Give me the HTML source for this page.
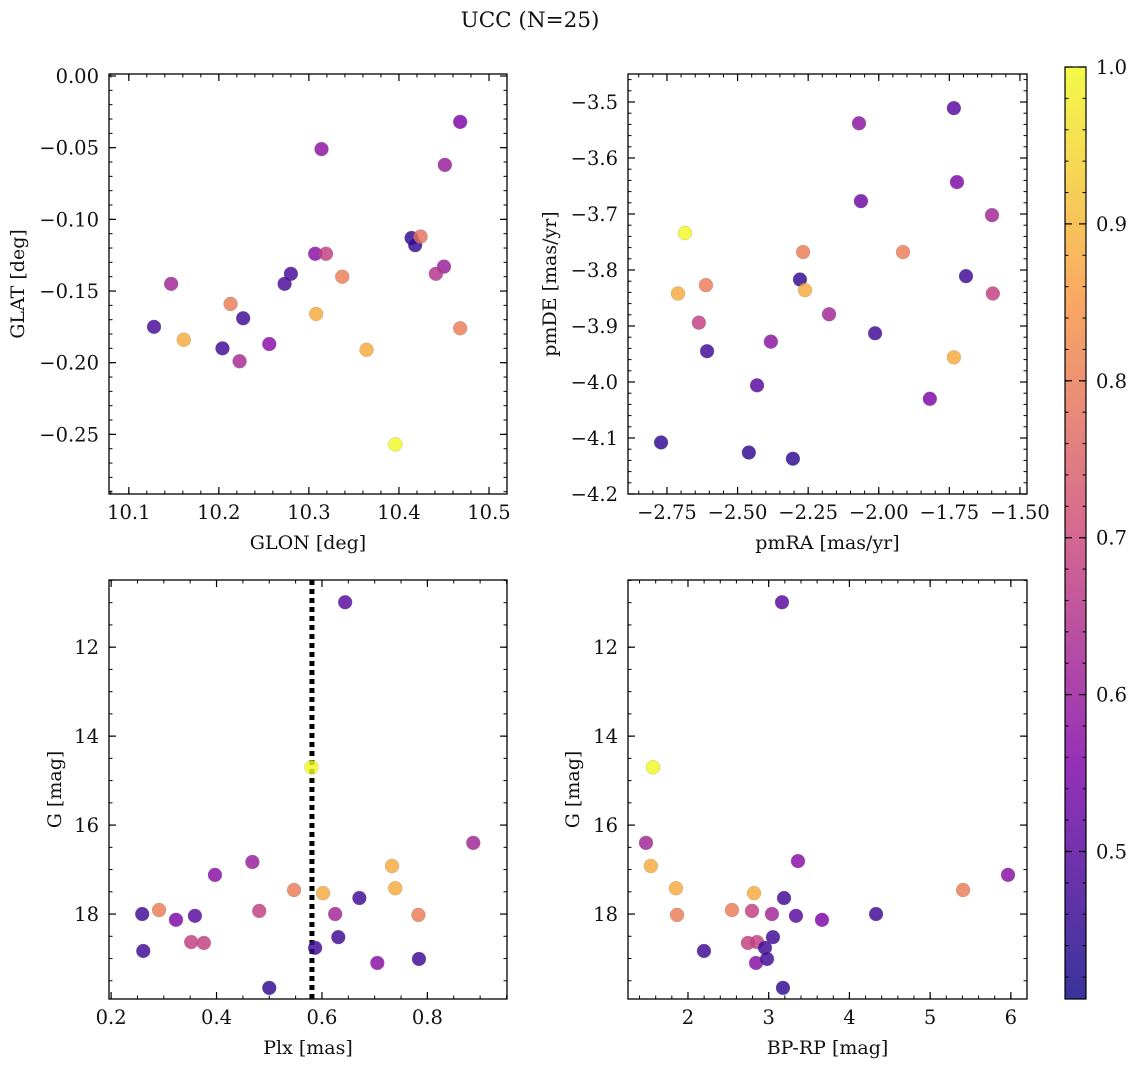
<!DOCTYPE html>
<html><head><meta charset="utf-8"><style>
body{margin:0;background:#fff;}
svg text{font-family:"DejaVu Serif","Liberation Serif",serif;fill:#111;}
</style></head><body>
<svg id="fig" width="1136" height="1067" xmlns="http://www.w3.org/2000/svg">
<defs>
<linearGradient id="plasma" x1="0" y1="1" x2="0" y2="0">
<stop offset="0" stop-color="#0d0887"/><stop offset="0.25" stop-color="#7e03a8"/>
<stop offset="0.5" stop-color="#cc4778"/><stop offset="0.75" stop-color="#f89540"/>
<stop offset="1" stop-color="#f0f921"/></linearGradient>
</defs>
<text x="530" y="27" font-size="21.5" text-anchor="middle">UCC (N=25)</text>
</svg>
<script>
// Panel 1: GLON vs GLAT
const p1X=[10.468,10.314,10.451,10.414,10.418,10.424,10.307,10.319,10.450,10.441,10.280,10.337,10.273,10.147,10.213,10.308,10.227,10.468,10.128,10.161,10.204,10.256,10.364,10.223,10.396];
const p1Y=[-0.032,-0.051,-0.062,-0.113,-0.118,-0.112,-0.124,-0.124,-0.133,-0.138,-0.138,-0.140,-0.145,-0.145,-0.159,-0.166,-0.169,-0.176,-0.175,-0.184,-0.190,-0.187,-0.191,-0.199,-0.257];
const p1P=[0.55,0.58,0.60,0.45,0.45,0.78,0.57,0.68,0.60,0.65,0.48,0.80,0.48,0.62,0.80,0.88,0.47,0.80,0.48,0.88,0.47,0.57,0.88,0.63,1.0];
// Panel 2: pmRA vs pmDE
const p2X=[-1.734,-2.070,-1.723,-2.063,-1.599,-2.686,-2.268,-1.914,-2.279,-1.691,-2.711,-2.612,-1.596,-2.261,-2.176,-2.637,-2.608,-2.382,-2.013,-1.734,-2.431,-1.819,-2.771,-2.460,-2.304];
const p2Y=[-3.511,-3.538,-3.643,-3.677,-3.702,-3.734,-3.768,-3.768,-3.817,-3.811,-3.842,-3.827,-3.842,-3.836,-3.879,-3.894,-3.945,-3.928,-3.913,-3.956,-4.006,-4.030,-4.108,-4.126,-4.137];
const p2P=[0.50,0.58,0.55,0.53,0.62,1.0,0.80,0.80,0.45,0.47,0.88,0.80,0.68,0.88,0.62,0.68,0.47,0.58,0.47,0.88,0.50,0.55,0.45,0.45,0.45];
// Panel 3 & 4: Plx / BP-RP vs G
const gMag=[10.99,14.70,16.40,16.83,16.92,17.12,17.46,17.42,17.53,17.64,17.91,17.93,18.00,18.00,18.02,18.04,18.13,18.63,18.65,18.52,18.76,18.83,19.10,19.01,19.66];
const plx=[0.644,0.580,0.887,0.468,0.733,0.397,0.547,0.739,0.602,0.671,0.291,0.481,0.259,0.625,0.783,0.359,0.323,0.352,0.376,0.631,0.587,0.261,0.705,0.784,0.500];
const p3P=[0.50,1.0,0.62,0.60,0.88,0.57,0.80,0.88,0.88,0.47,0.80,0.68,0.47,0.62,0.80,0.50,0.55,0.68,0.68,0.47,0.47,0.47,0.57,0.47,0.45];
const gMag4=[10.99,14.70,16.40,16.81,16.92,17.12,17.46,17.42,17.53,17.64,17.91,17.93,18.00,18.00,18.02,18.04,18.13,18.65,18.63,18.52,18.76,18.83,19.10,19.01,19.66];
const bprp=[3.165,1.566,1.48,3.363,1.54,5.965,5.408,1.851,2.818,3.19,2.545,2.793,4.33,3.04,1.864,3.338,3.66,2.743,2.855,3.053,2.954,2.198,2.843,2.979,3.177];
const p4P=[0.50,1.0,0.62,0.57,0.88,0.57,0.80,0.88,0.88,0.47,0.80,0.68,0.47,0.62,0.80,0.50,0.55,0.68,0.68,0.47,0.47,0.47,0.57,0.47,0.45];
const plxLine=[0.581];
const cbTicks=[0.5,0.6,0.7,0.8,0.9,1.0];
const VMIN=0.406,VMAX=1.0;

const NS="http://www.w3.org/2000/svg";
const svg=document.getElementById('fig');
function mk(tag,attrs,parent){const e=document.createElementNS(NS,tag);for(const k in attrs)e.setAttribute(k,attrs[k]);(parent||svg).appendChild(e);return e;}
const stops=[[0,[13,8,135]],[0.25,[126,3,168]],[0.5,[204,71,120]],[0.75,[248,149,64]],[1,[240,249,33]]];
function plasma(p){let t=(p-VMIN)/(VMAX-VMIN);t=Math.max(0,Math.min(1,t));
 for(let i=0;i<4;i++){const a=stops[i],b=stops[i+1];if(t<=b[0]){const f=(t-a[0])/(b[0]-a[0]);
 const c=a[1].map((v,j)=>Math.round(v+(b[1][j]-v)*f));return `rgb(${c})`;}}return 'rgb(240,249,33)';}

const TF=19.5, LF=19;
function panel(o){
 const g=mk('g',{});
 
 
 const sx=v=>o.x0+(v-o.xmin)/(o.xmax-o.xmin)*(o.x1-o.x0);
 const sy=v=>o.inv? o.y0+(v-o.ymin)/(o.ymax-o.ymin)*(o.y1-o.y0) : o.y1-(v-o.ymin)/(o.ymax-o.ymin)*(o.y1-o.y0);
 const eps=1e-9;
 for(let v=Math.ceil(o.xmin/o.xmi-eps)*o.xmi;v<=o.xmax+eps;v+=o.xmi){const X=sx(v);
  mk('line',{x1:X,x2:X,y1:o.y1,y2:o.y1-3.5,stroke:'#000','stroke-width':1},g);mk('line',{x1:X,x2:X,y1:o.y0,y2:o.y0+3.5,stroke:'#000','stroke-width':1},g);}
 for(let v=Math.ceil(o.ymin/o.ymi-eps)*o.ymi;v<=o.ymax+eps;v+=o.ymi){const Y=sy(v);
  mk('line',{x1:o.x0,x2:o.x0+3.5,y1:Y,y2:Y,stroke:'#000','stroke-width':1},g);mk('line',{x1:o.x1,x2:o.x1-3.5,y1:Y,y2:Y,stroke:'#000','stroke-width':1},g);}
 o.xt.forEach(v=>{const X=sx(v);
  mk('line',{x1:X,x2:X,y1:o.y1,y2:o.y1-7,stroke:'#000','stroke-width':1.2},g);mk('line',{x1:X,x2:X,y1:o.y0,y2:o.y0+7,stroke:'#000','stroke-width':1.2},g);
  const t=mk('text',{x:X,y:o.y1+25,'font-size':TF,'text-anchor':'middle'},g);t.textContent=v.toFixed(o.xd).replace('-','\u2212');
  });
 o.yt.forEach(v=>{const Y=sy(v);
  mk('line',{x1:o.x0,x2:o.x0+7,y1:Y,y2:Y,stroke:'#000','stroke-width':1.2},g);mk('line',{x1:o.x1,x2:o.x1-7,y1:Y,y2:Y,stroke:'#000','stroke-width':1.2},g);
  const t=mk('text',{x:o.x0-10,y:Y+7,'font-size':TF,'text-anchor':'end'},g);t.textContent=v.toFixed(o.yd).replace('-','\u2212');
  });
 if(o.vline){o.vline.forEach(v=>{const l=mk('line',{x1:sx(v),x2:sx(v),y1:o.y0,y2:o.y1,stroke:'#000','stroke-width':5,'stroke-dasharray':'5,4'},g);
  });}
 o.xs.forEach((v,i)=>{const c=mk('circle',{cx:sx(v),cy:sy(o.ys[i]),r:7,fill:plasma(o.ps[i]),'fill-opacity':0.82,stroke:'#888','stroke-width':0.4,'stroke-opacity':0.6},g);
  });
 const fr=mk('rect',{x:o.x0,y:o.y0,width:o.x1-o.x0,height:o.y1-o.y0,fill:'none',stroke:'#000','stroke-width':1.3},g);
 
 const xl=mk('text',{x:(o.x0+o.x1)/2,y:o.y1+55,'font-size':LF,'text-anchor':'middle'},g);xl.textContent=o.xlab;
 
 const yl=mk('text',{x:o.ylx,y:(o.y0+o.y1)/2,'font-size':LF,'text-anchor':'middle',transform:`rotate(-90 ${o.ylx} ${(o.y0+o.y1)/2})`},g);yl.textContent=o.ylab;
 
}
panel({name:'glon-glat-panel',x0:109,x1:507,y0:74,y1:494,xmin:10.078,xmax:10.520,ymin:-0.2916,ymax:0.0014,xt:[10.1,10.2,10.3,10.4,10.5],xd:1,yt:[0,-0.05,-0.1,-0.15,-0.2,-0.25],yd:2,xmi:0.02,ymi:0.01,xs:p1X,ys:p1Y,ps:p1P,xlab:'GLON [deg]',ylab:'GLAT [deg]',ylx:24});
panel({name:'pm-panel',x0:628,x1:1027,y0:74,y1:494,xmin:-2.888,xmax:-1.475,ymin:-4.2,ymax:-3.45,xt:[-2.75,-2.5,-2.25,-2,-1.75,-1.5],xd:2,yt:[-3.5,-3.6,-3.7,-3.8,-3.9,-4.0,-4.1,-4.2],yd:1,xmi:0.05,ymi:0.02,xs:p2X,ys:p2Y,ps:p2P,xlab:'pmRA [mas/yr]',ylab:'pmDE [mas/yr]',ylx:556});
panel({name:'plx-g-panel',x0:109,x1:507,y0:580,y1:999,inv:true,xmin:0.196,xmax:0.951,ymin:10.49,ymax:19.91,xt:[0.2,0.4,0.6,0.8],xd:1,yt:[12,14,16,18],yd:0,xmi:0.05,ymi:0.5,xs:plx,ys:gMag,ps:p3P,vline:plxLine,xlab:'Plx [mas]',ylab:'G [mag]',ylx:61});
panel({name:'cmd-panel',x0:628,x1:1027,y0:580,y1:999,inv:true,xmin:1.257,xmax:6.2,ymin:10.49,ymax:19.91,xt:[2,3,4,5,6],xd:0,yt:[12,14,16,18],yd:0,xmi:0.2,ymi:0.5,xs:bprp,ys:gMag4,ps:p4P,xlab:'BP-RP [mag]',ylab:'G [mag]',ylx:579});
const cb=mk('g',{});


const cy=v=>999-(v-VMIN)/(VMAX-VMIN)*(999-67);
mk('rect',{x:1065,y:67,width:21,height:932,fill:'url(#plasma)','fill-opacity':0.82},cb);
mk('rect',{x:1065,y:67,width:21,height:932,fill:'none',stroke:'#000','stroke-width':1.2},cb);
for(let v=0.42;v<=1.0001;v+=0.02){const Y=cy(v);mk('line',{x1:1086,x2:1082.5,y1:Y,y2:Y,stroke:'#000','stroke-width':1},cb);mk('line',{x1:1065,x2:1068.5,y1:Y,y2:Y,stroke:'#000','stroke-width':1},cb);}
cbTicks.forEach(v=>{const Y=cy(v);mk('line',{x1:1086,x2:1079,y1:Y,y2:Y,stroke:'#000','stroke-width':1.2},cb);mk('line',{x1:1065,x2:1072,y1:Y,y2:Y,stroke:'#000','stroke-width':1.2},cb);
 const t=mk('text',{x:1096,y:Y+7,'font-size':TF},cb);t.textContent=v.toFixed(1);
 });
</script>
</body></html>
